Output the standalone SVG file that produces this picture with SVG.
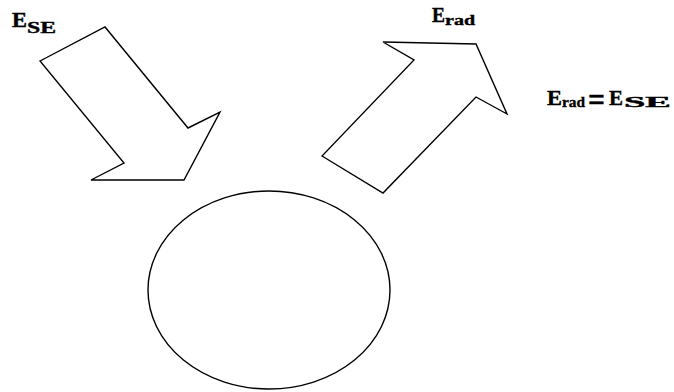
<svg xmlns="http://www.w3.org/2000/svg" width="674" height="392" viewBox="0 0 674 392">
<style>
.shape{fill:#fff;stroke:#000;stroke-width:1.4;stroke-linejoin:miter}
.t{font-family:"Liberation Serif","Times New Roman",serif;font-weight:bold;fill:#000;stroke:#000;stroke-width:0.4}
</style>
<rect width="674" height="392" fill="#fff"/>
<g id="arrow-in">
<polygon class="shape" points="40,61 105,27 188,128 220,112 184,180 91,180 124,163"/>
</g>
<g id="arrow-out">
<polygon class="shape" points="322,156 383,193 476,97 507,114 476,44 383,42 414,60"/>
</g>
<g id="body">
<ellipse class="shape" cx="269" cy="290" rx="121" ry="99" stroke-width="1.1"/>
</g>
<g id="label-ese">
<text class="t" x="12" y="27" font-size="20" textLength="15" lengthAdjust="spacingAndGlyphs">E</text>
<text class="t" x="27" y="33" font-size="17" textLength="29" lengthAdjust="spacingAndGlyphs">SE</text>
</g>
<g id="label-erad">
<text class="t" x="432" y="22" font-size="20" textLength="13" lengthAdjust="spacingAndGlyphs">E</text>
<text class="t" x="445" y="25" font-size="15" textLength="30" lengthAdjust="spacingAndGlyphs">rad</text>
</g>
<g id="equation">
<text class="t" x="547" y="105" font-size="22" textLength="15" lengthAdjust="spacingAndGlyphs">E</text>
<text class="t" x="562" y="107" font-size="15" textLength="23" lengthAdjust="spacingAndGlyphs">rad</text>
<text class="t" x="588" y="111" font-size="34" textLength="17" lengthAdjust="spacingAndGlyphs">=</text>
<text class="t" x="609" y="105" font-size="22" textLength="14" lengthAdjust="spacingAndGlyphs">E</text>
<text class="t" x="624" y="107" font-size="15" textLength="47" lengthAdjust="spacingAndGlyphs">SE</text>
</g>
</svg>
